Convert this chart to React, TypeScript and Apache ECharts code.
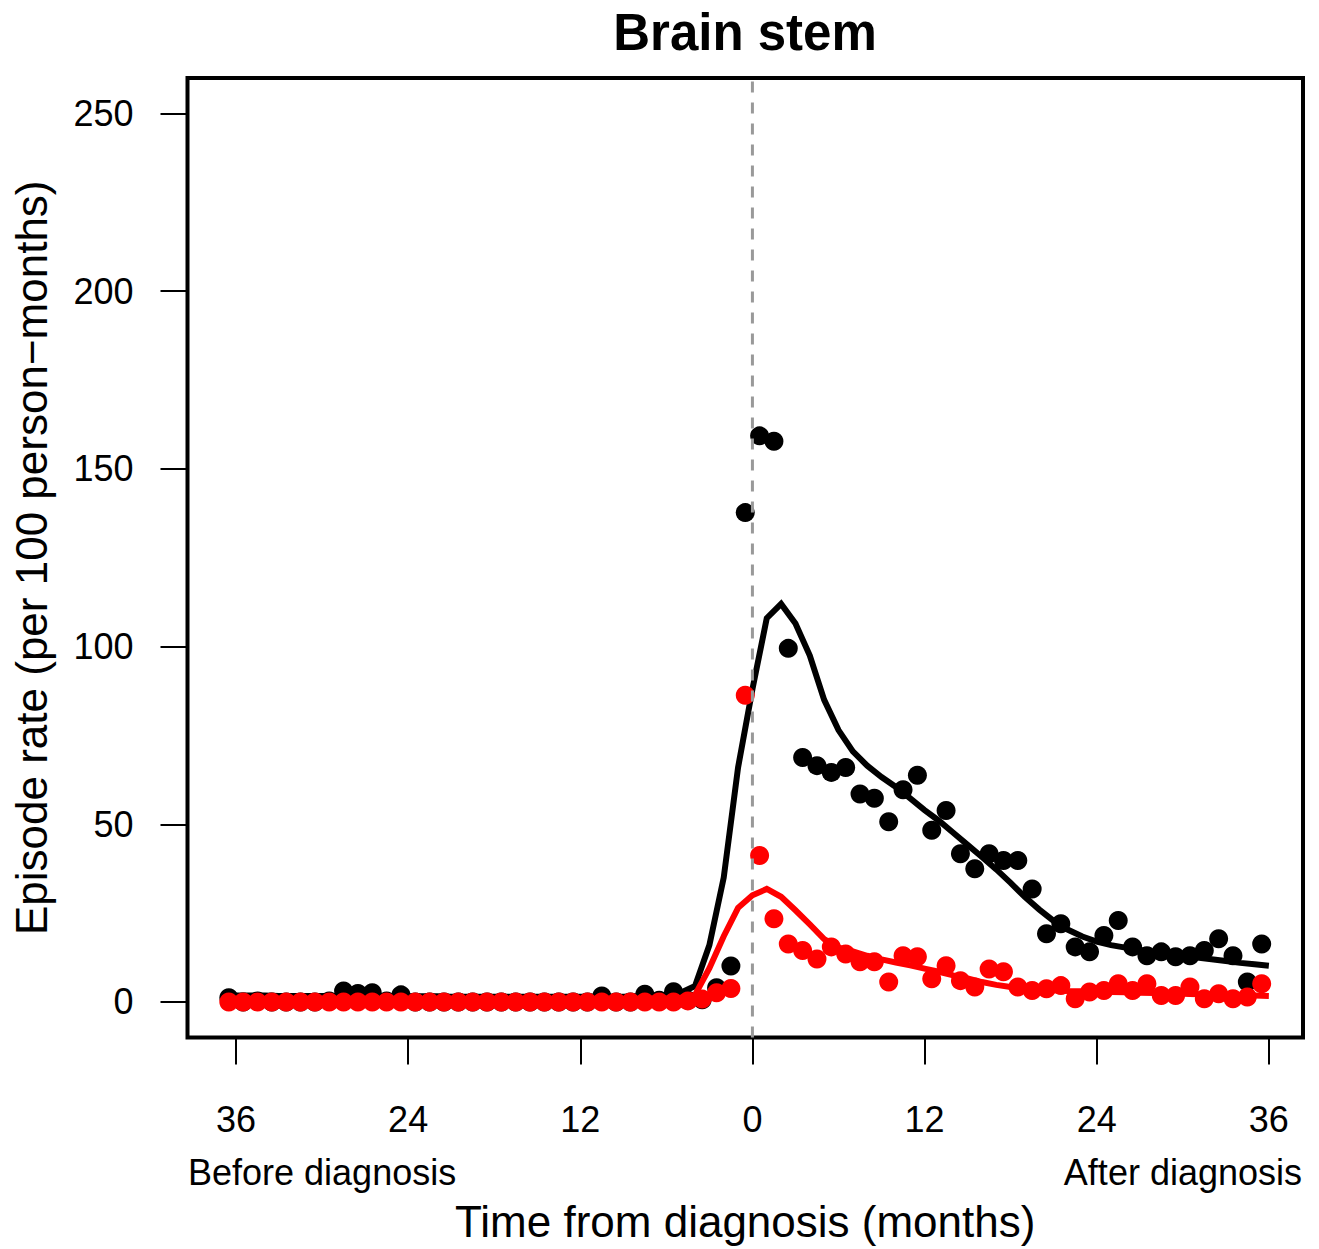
import React, { useEffect, useRef } from "react";
import * as echarts from "echarts";

// Observed monthly rates, plotted at mid-month positions
const pointMonths = [
  -36.5, -35.5, -34.5, -33.5, -32.5, -31.5, -30.5, -29.5, -28.5, -27.5, -26.5, -25.5,
  -24.5, -23.5, -22.5, -21.5, -20.5, -19.5, -18.5, -17.5, -16.5, -15.5, -14.5, -13.5,
  -12.5, -11.5, -10.5, -9.5, -8.5, -7.5, -6.5, -5.5, -4.5, -3.5, -2.5, -1.5, -0.5,
  0.5, 1.5, 2.5, 3.5, 4.5, 5.5, 6.5, 7.5, 8.5, 9.5, 10.5, 11.5,
  12.5, 13.5, 14.5, 15.5, 16.5, 17.5, 18.5, 19.5, 20.5, 21.5, 22.5, 23.5,
  24.5, 25.5, 26.5, 27.5, 28.5, 29.5, 30.5, 31.5, 32.5, 33.5, 34.5, 35.5,
];
const blackPoints = [
  1.2, 0, 0.3, 0, 0, 0, 0, 0.3, 3.1, 2.4, 2.6, 0.3,
  2.0, 0, 0, 0, 0, 0, 0, 0, 0, 0, 0, 0,
  0, 0, 1.7, 0, 0, 2.2, 0.5, 2.9, 0.5, 0.6, 4.0, 10.1, 137.7,
  159.3, 157.8, 99.5, 68.8, 66.5, 64.6, 66.0, 58.5, 57.3, 50.7, 59.7, 63.8,
  48.3, 53.9, 41.7, 37.5, 41.7, 39.8, 39.8, 31.8, 19.2, 22.0, 15.5, 14.1,
  18.7, 22.9, 15.5, 13.0, 14.1, 12.7, 13.0, 14.5, 17.8, 13.0, 5.6, 16.3,
];
const redPoints = [
  0, 0, 0, 0, 0, 0, 0, 0, 0, 0, 0, 0,
  0, 0, 0, 0, 0, 0, 0, 0, 0, 0, 0, 0,
  0, 0, 0, 0, 0, 0, 0, 0, 0.3, 0.8, 2.6, 3.8, 86.3,
  41.2, 23.4, 16.3, 14.5, 12.1, 15.5, 13.5, 11.3, 11.3, 5.6, 13.0, 12.7,
  6.5, 10.2, 6.0, 4.2, 9.3, 8.5, 4.2, 3.2, 3.7, 4.6, 0.9, 2.8,
  3.2, 5.1, 3.2, 5.1, 1.8, 1.8, 4.2, 0.9, 2.3, 0.9, 1.4, 5.1,
];

// Fitted curves at whole months
const lineMonths = [
  -36, -35, -34, -33, -32, -31, -30, -29, -28, -27, -26, -25,
  -24, -23, -22, -21, -20, -19, -18, -17, -16, -15, -14, -13,
  -12, -11, -10, -9, -8, -7, -6, -5, -4, -3, -2, -1, 0,
  1, 2, 3, 4, 5, 6, 7, 8, 9, 10, 11, 12,
  13, 14, 15, 16, 17, 18, 19, 20, 21, 22, 23, 24,
  25, 26, 27, 28, 29, 30, 31, 32, 33, 34, 35, 36,
];
const blackFit = [
  1.8, 1.8, 1.8, 1.7, 1.7, 1.7, 1.7, 1.7, 1.7, 1.6, 1.6, 1.6,
  1.6, 1.6, 1.6, 1.5, 1.5, 1.5, 1.5, 1.5, 1.5, 1.5, 1.5, 1.5,
  1.5, 1.5, 1.5, 1.5, 1.6, 1.7, 2.0, 2.6, 4.5, 16, 35, 66, 88,
  108, 112, 106.5, 97.5, 85, 76.5, 70.5, 66.5, 63.3, 60.5, 57.3, 54,
  51, 47.6, 44.2, 40.8, 37.3, 33.5, 29.5, 26, 22.8, 20.3, 18.4, 17,
  16, 15.3, 14.6, 14, 13.5, 13, 12.5, 12, 11.5, 11, 10.6, 10.2,
];
const redFit = [
  0.8, 0.8, 0.8, 0.8, 0.8, 0.8, 0.8, 0.8, 0.8, 0.8, 0.8, 0.8,
  0.8, 0.8, 0.8, 0.8, 0.8, 0.8, 0.8, 0.8, 0.8, 0.8, 0.8, 0.8,
  0.8, 0.8, 0.8, 0.8, 0.8, 0.9, 1.0, 1.2, 2.0, 9.5, 18.5, 26.5, 30,
  31.8, 29.6, 25.8, 21.8, 17.7, 15.3, 14.2, 13, 12, 11.1, 10.3, 9.4,
  8.5, 7.5, 6.6, 5.6, 4.8, 4.2, 3.8, 3.5, 3.3, 3.1, 3.0, 2.9,
  2.8, 2.7, 2.6, 2.5, 2.4, 2.3, 2.2, 2.1, 2.0, 1.9, 1.8, 1.7,
];

const xTicks = [-36, -24, -12, 0, 12, 24, 36];
const yTicks = [0, 50, 100, 150, 200, 250];
const xMin = -39.38;
const xMax = 38.38;
const yMin = -10;
const yMax = 260;

const FONT = '"Liberation Sans", Arial, Helvetica, sans-serif';

export default function App() {
  const ref = useRef<HTMLDivElement>(null);

  useEffect(() => {
    if (!ref.current) return;
    const chart = echarts.init(ref.current, undefined, { renderer: "svg" });
    const pair = (xs: number[], ys: number[]) => xs.map((x, i) => [x, ys[i]]);

    chart.setOption({
      animation: false,
      backgroundColor: "#ffffff",
      textStyle: { fontFamily: FONT },
      grid: {
        left: 187.5,
        right: 16,
        top: 78,
        bottom: 211.5,
        show: true,
        borderColor: "#000",
        borderWidth: 4,
        backgroundColor: "transparent",
      },
      xAxis: {
        type: "value",
        min: xMin,
        max: xMax,
        splitLine: { show: false },
        axisLine: { show: false, onZero: false },
        axisTick: {
          show: true,
          customValues: xTicks,
          length: 27,
          lineStyle: { color: "#000", width: 2 },
        },
        axisLabel: {
          customValues: xTicks,
          formatter: (v: number) => String(Math.abs(v)),
          fontSize: 36,
          color: "#000",
          fontFamily: FONT,
          margin: 64,
        },
        name: "Time from diagnosis (months)",
        nameLocation: "middle",
        nameGap: 162,
        nameTextStyle: { fontSize: 44, color: "#000", fontFamily: FONT },
      },
      yAxis: {
        type: "value",
        min: yMin,
        max: yMax,
        splitLine: { show: false },
        axisLine: { show: false, onZero: false },
        axisTick: {
          show: true,
          customValues: yTicks,
          length: 27,
          lineStyle: { color: "#000", width: 2 },
        },
        axisLabel: {
          customValues: yTicks,
          fontSize: 36,
          color: "#000",
          fontFamily: FONT,
          margin: 54,
        },
        name: "Episode rate (per 100 person\u2212months)",
        nameLocation: "middle",
        nameRotate: 90,
        nameGap: 134,
        nameTextStyle: { fontSize: 44, color: "#000", fontFamily: FONT },
      },
      graphic: [
        {
          type: "text",
          x: 745,
          y: 32,
          style: {
            text: "Brain stem",
            font: `bold 51px ${FONT}`,
            fill: "#000",
            textAlign: "center",
            textVerticalAlign: "middle",
          },
        },
        {
          type: "text",
          x: 188,
          y: 1172,
          style: {
            text: "Before diagnosis",
            font: `36px ${FONT}`,
            fill: "#000",
            textAlign: "left",
            textVerticalAlign: "middle",
          },
        },
        {
          type: "text",
          x: 1302,
          y: 1172,
          style: {
            text: "After diagnosis",
            font: `36px ${FONT}`,
            fill: "#000",
            textAlign: "right",
            textVerticalAlign: "middle",
          },
        },
      ],
      series: [
        {
          name: "black points",
          type: "scatter",
          data: pair(pointMonths, blackPoints),
          symbol: "circle",
          symbolSize: 19,
          itemStyle: { color: "#000", opacity: 1 },
          z: 2,
        },
        {
          name: "black fit",
          type: "line",
          data: pair(lineMonths, blackFit),
          showSymbol: false,
          symbol: "none",
          lineStyle: { color: "#000", width: 6, join: "miter" },
          z: 3,
        },
        {
          name: "red points",
          type: "scatter",
          data: pair(pointMonths, redPoints),
          symbol: "circle",
          symbolSize: 19,
          itemStyle: { color: "#ff0000", opacity: 1 },
          z: 4,
        },
        {
          name: "red fit",
          type: "line",
          data: pair(lineMonths, redFit),
          showSymbol: false,
          symbol: "none",
          lineStyle: { color: "#ff0000", width: 6, join: "miter" },
          z: 5,
        },
        {
          name: "diagnosis",
          type: "line",
          data: [
            [0, yMin],
            [0, yMax],
          ],
          showSymbol: false,
          symbol: "none",
          lineStyle: { color: "#999999", width: 3, type: [11, 10] },
          z: 6,
          silent: true,
        },
      ],
    });

    return () => chart.dispose();
  }, []);

  return (
    <div
      ref={ref}
      style={{ position: "fixed", left: 0, top: 0, width: 1319, height: 1249 }}
    />
  );
}
